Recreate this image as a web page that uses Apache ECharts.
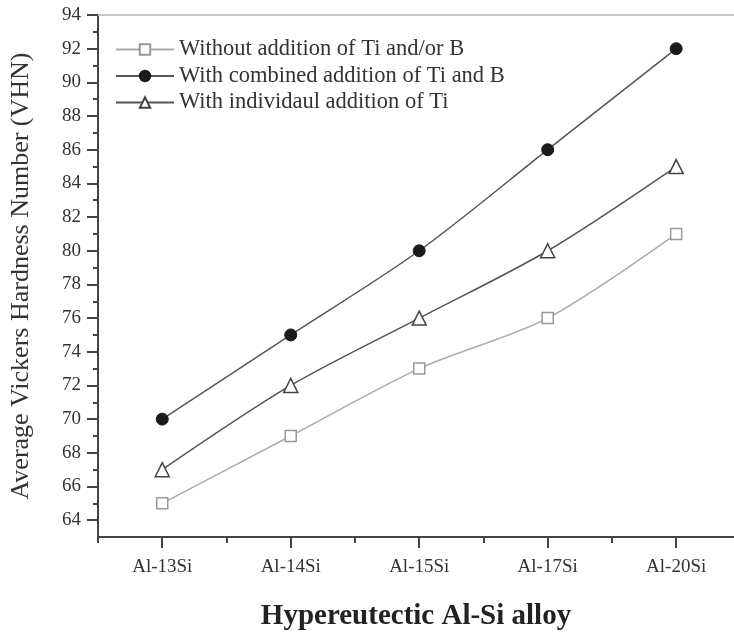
<!DOCTYPE html>
<html>
<head>
<meta charset="utf-8">
<script src="https://cdn.jsdelivr.net/npm/echarts@6/dist/echarts.min.js"></script>
<style>
  html, body { margin: 0; padding: 0; background: #fff; }
  #chart { width: 734px; height: 636px; }
</style>
</head>
<body>
<div id="chart"></div>
<script>
const categories = ['Al-13Si', 'Al-14Si', 'Al-15Si', 'Al-17Si', 'Al-20Si'];
const withoutTiB = [65, 69, 73, 76, 81];
const combinedTiB = [70, 75, 80, 86, 92];
const individualTi = [67, 72, 76, 80, 85];
const yMajorTicks = [64, 66, 68, 70, 72, 74, 76, 78, 80, 82, 84, 86, 88, 90, 92, 94];
const yMinorTicks = [65, 67, 69, 71, 73, 75, 77, 79, 81, 83, 85, 87, 89, 91, 93];
const xMinorTicks = [-0.5, 0.5, 1.5, 2.5, 3.5];

const serif = '"Liberation Serif", "DejaVu Serif", serif';
const axisColor = '#444';

const toPairs = (arr) => arr.map((v, i) => [i, v]);

const chart = echarts.init(document.getElementById('chart'));

// shared x range, categories sit at integer positions
const xRange = { type: 'value', min: -0.5, max: 4.45, splitLine: { show: false } };

const option = {
  backgroundColor: '#fff',
  animation: false,
  grid: { left: 97, right: 0, top: 15, bottom: 99, containLabel: false },
  legend: {
    left: 110,
    top: 33,
    orient: 'vertical',
    itemWidth: 58,
    itemHeight: 13,
    itemGap: 3.5,
    textStyle: { fontFamily: serif, fontSize: 22.5, color: '#333', lineHeight: 22 },
    data: ['Without addition of Ti and/or B', 'With combined addition of Ti and B', 'With individaul addition of Ti']
  },
  xAxis: [
    Object.assign({}, xRange, {
      position: 'bottom',
      axisLine: { show: true, onZero: false, lineStyle: { color: axisColor, width: 2 } },
      axisTick: { show: true, length: 11, lineStyle: { color: axisColor, width: 2 }, customValues: [0, 1, 2, 3, 4] },
      axisLabel: {
        customValues: [0, 1, 2, 3, 4],
        formatter: (v) => categories[Math.round(v)] || '',
        fontFamily: serif, fontSize: 19, color: '#333', margin: 21
      },
      name: 'Hypereutectic Al-Si alloy',
      nameLocation: 'middle',
      nameGap: 65,
      nameTextStyle: { fontFamily: serif, fontSize: 29, fontWeight: 'bold', color: '#222' }
    }),
    Object.assign({}, xRange, {
      position: 'bottom',
      axisLine: { show: false, onZero: false },
      axisTick: { show: true, length: 6, lineStyle: { color: axisColor, width: 2 }, customValues: xMinorTicks },
      axisLabel: { show: false }
    }),
    Object.assign({}, xRange, {
      position: 'top',
      axisLine: { show: true, onZero: false, lineStyle: { color: '#c8c8c8', width: 2 } },
      axisTick: { show: false },
      axisLabel: { show: false }
    })
  ],
  yAxis: [
    {
      type: 'value',
      min: 63,
      max: 94,
      position: 'left',
      splitLine: { show: false },
      axisLine: { show: true, onZero: false, lineStyle: { color: axisColor, width: 2 } },
      axisTick: { show: true, length: 11, lineStyle: { color: axisColor, width: 2 }, customValues: yMajorTicks },
      axisLabel: { customValues: yMajorTicks, fontFamily: serif, fontSize: 19, color: '#333', margin: 17 },
      name: 'Average Vickers Hardness Number (VHN)',
      nameLocation: 'middle',
      nameGap: 64,
      nameTextStyle: { fontFamily: serif, fontSize: 26, color: '#333' }
    },
    {
      type: 'value',
      min: 63,
      max: 94,
      position: 'left',
      splitLine: { show: false },
      axisLine: { show: false, onZero: false },
      axisTick: { show: true, length: 5, lineStyle: { color: axisColor, width: 2 }, customValues: yMinorTicks },
      axisLabel: { show: false }
    }
  ],
  series: [
    {
      name: 'Without addition of Ti and/or B',
      type: 'line',
      smooth: 0.3,
      data: toPairs(withoutTiB),
      symbol: 'rect',
      symbolSize: 11,
      lineStyle: { color: '#aaa', width: 1.5 },
      itemStyle: { color: '#fff', borderColor: '#999', borderWidth: 1.5 }
    },
    {
      name: 'With combined addition of Ti and B',
      type: 'line',
      smooth: 0.3,
      data: toPairs(combinedTiB),
      symbol: 'circle',
      symbolSize: 12,
      lineStyle: { color: '#555', width: 1.5 },
      itemStyle: { color: '#1a1a1a', borderColor: '#1a1a1a', borderWidth: 1 }
    },
    {
      name: 'With individaul addition of Ti',
      type: 'line',
      smooth: 0.3,
      data: toPairs(individualTi),
      symbol: 'triangle',
      symbolSize: 14,
      lineStyle: { color: '#555', width: 1.5 },
      itemStyle: { color: '#fff', borderColor: '#444', borderWidth: 1.5 }
    }
  ]
};

chart.setOption(option);
</script>
</body>
</html>
